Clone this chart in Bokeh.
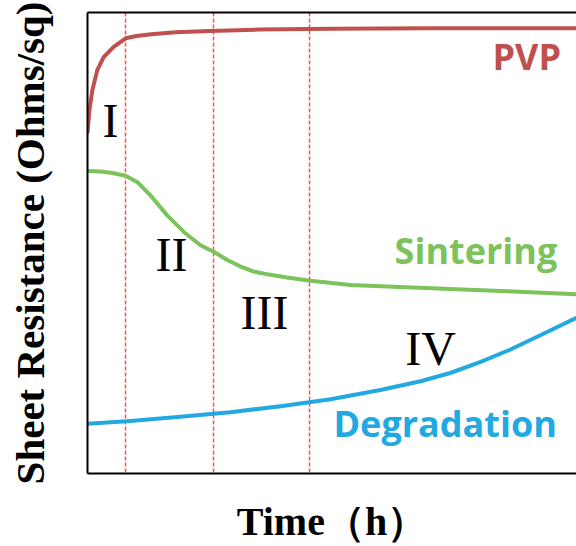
from bokeh.plotting import figure
from bokeh.models import Range1d, LinearAxis, FixedTicker, Span
from bokeh.core.properties import value
from bokeh.embed import file_html
from bokeh.resources import INLINE

# PVP curve (time, sheet resistance; arbitrary units)
pvp_t = [0, 0.04, 0.10, 0.20, 0.33, 0.53, 0.78, 1.0, 1.3, 1.8, 2.5, 3.5, 5.0, 7.0, 10.0]
pvp_r = [7.40, 7.89, 8.32, 8.75, 9.03, 9.25, 9.44, 9.49, 9.53, 9.57, 9.60, 9.63, 9.65, 9.66, 9.66]

# Sintering curve
sint_t = [0, 0.27, 0.51, 0.78, 1.02, 1.29, 1.63, 1.97, 2.31, 2.58, 2.86, 3.13, 3.40, 3.68, 4.08, 4.56, 5.38, 6.00, 7.42, 8.45, 10.0]
sint_r = [6.56, 6.55, 6.52, 6.46, 6.32, 6.03, 5.60, 5.24, 4.95, 4.81, 4.63, 4.49, 4.38, 4.32, 4.25, 4.18, 4.09, 4.06, 4.00, 3.96, 3.89]

# Degradation curve
degr_t = [0, 0.88, 1.90, 2.92, 3.95, 4.97, 5.99, 6.81, 7.42, 8.04, 8.65, 9.26, 10.0]
degr_r = [1.08, 1.14, 1.23, 1.33, 1.46, 1.61, 1.81, 2.00, 2.18, 2.42, 2.69, 3.00, 3.38]

# Stage boundaries
stage_bounds = [0.777, 2.577, 4.54]

# Stage labels
stage_names = ["I", "II", "III", "IV"]
stage_x = [0.307, 1.39, 3.13, 6.50]
stage_y = [7.65, 4.75, 3.50, 2.71]

# Series labels
series_names = ["PVP", "Sintering", "Degradation"]
series_x = [8.28, 6.28, 5.03]
series_y = [9.05, 4.83, 1.08]
series_colors = ["#c0504d", "#7dc35b", "#22a9e1"]

p = figure(width=576, height=546, output_backend="svg", toolbar_location=None,
           x_axis_type=None, y_axis_type=None,
           x_range=Range1d(0, 10), y_range=Range1d(0, 10),
           min_border_left=87, min_border_right=0, min_border_top=12, min_border_bottom=69)
p.outline_line_color = None


def bare_axis(**kw):
    return LinearAxis(ticker=FixedTicker(ticks=[]), major_tick_in=0, major_tick_out=0,
                      minor_tick_in=0, minor_tick_out=0, major_label_text_font_size="0px",
                      major_label_standoff=0,
                      axis_line_width=2, axis_line_color="black", **kw)


left = bare_axis(axis_label="Sheet Resistance (Ohms/sq)", axis_label_text_font="Liberation Serif",
                 axis_label_text_font_style="bold", axis_label_text_font_size="41px",
                 axis_label_standoff=35, axis_label_text_color="black")
p.add_layout(left, "left")
bottom = bare_axis(axis_label="Time（h）", axis_label_text_font="Liberation Serif",
                   axis_label_text_font_style="bold", axis_label_text_font_size="40px",
                   axis_label_standoff=25, axis_label_text_color="black")
p.add_layout(bottom, "below")
top = bare_axis()
p.add_layout(top, "above")

for b in stage_bounds:
    p.add_layout(Span(location=b, dimension="height", line_color="#ff4d4d", line_width=1.5,
                      line_dash="4 2", level="underlay"))

p.line(pvp_t, pvp_r, line_color=series_colors[0], line_width=4, line_join="round", line_cap="round")
p.line(sint_t, sint_r, line_color=series_colors[1], line_width=4, line_join="round", line_cap="round")
p.line(degr_t, degr_r, line_color=series_colors[2], line_width=4, line_join="round", line_cap="round")

p.text(x=stage_x, y=stage_y, text=stage_names, text_font=value("Liberation Serif"),
       text_font_size="48px", text_color="black", text_baseline="alphabetic", text_align="left")
p.text(x=series_x, y=series_y, text=series_names, text_font=value("Open Sans"),
       text_font_style="bold", text_font_size="36px", text_color=series_colors,
       text_baseline="alphabetic", text_align="left")

open("out.html", "w").write(file_html(p, INLINE))
